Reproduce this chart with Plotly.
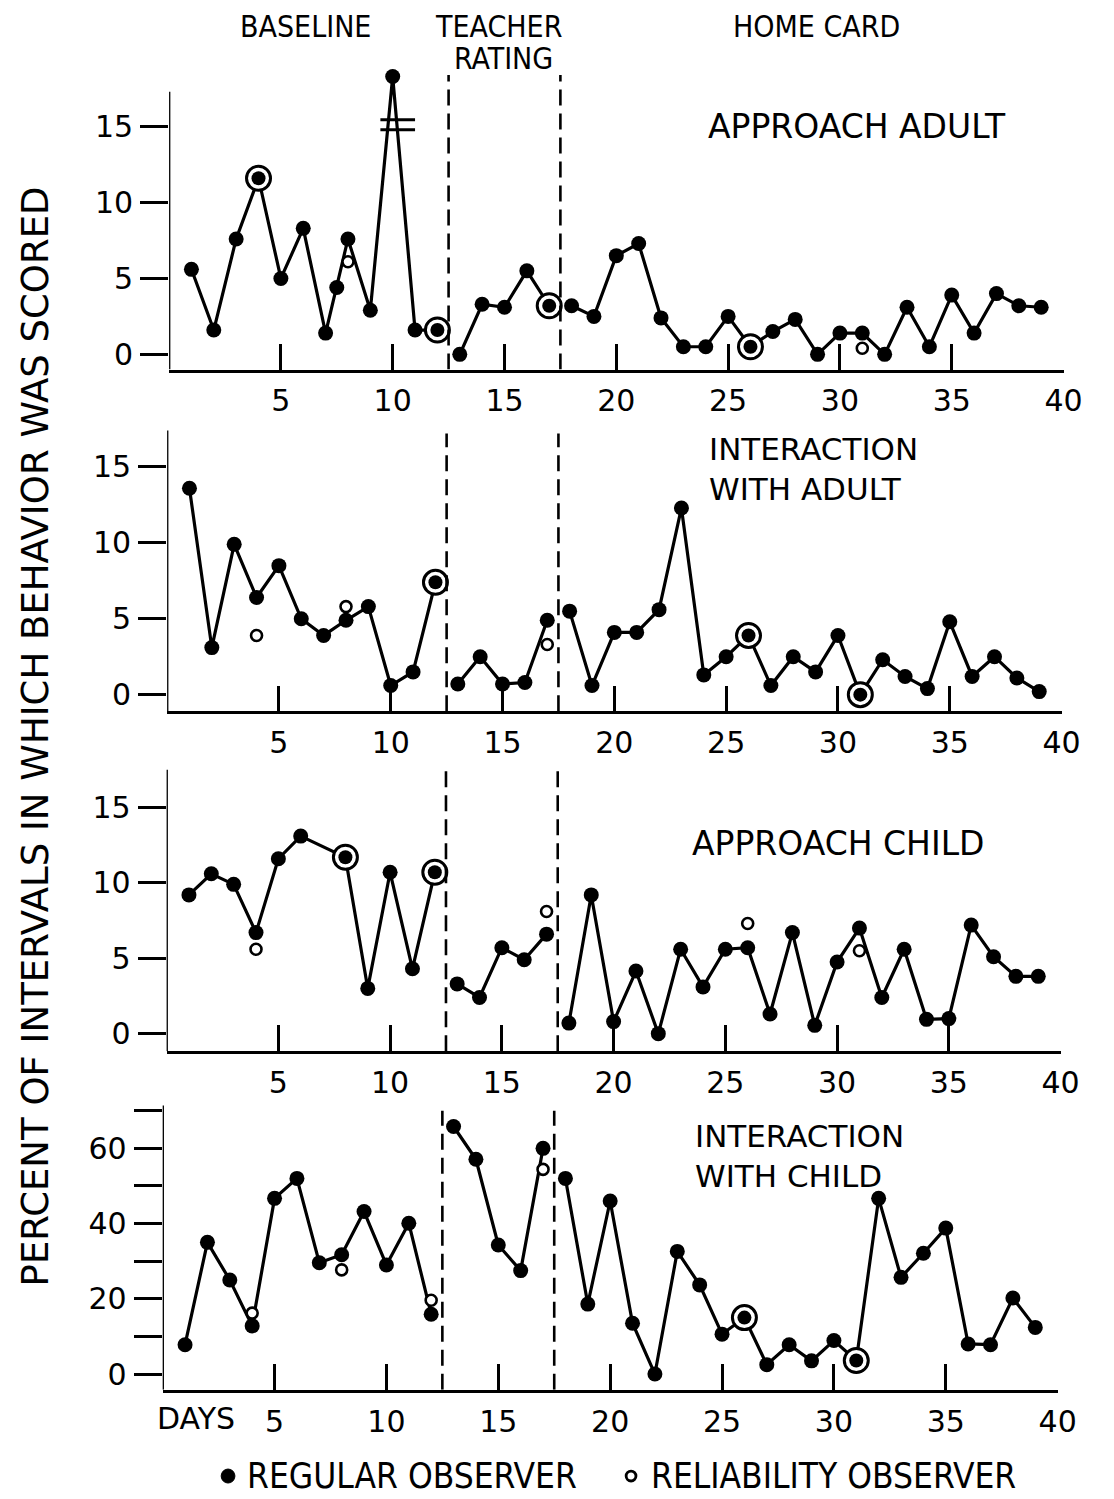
import plotly.graph_objects as go

# ---------------- data ----------------
phase_breaks = [12.5, 17.5]

aa_days = [1, 2, 3, 4, 5, 6, 7, 7.5, 8, 9, 10, 11, 12, 13, 14, 15, 16, 17, 18, 19, 20,
           21, 22, 23, 24, 25, 26, 27, 28, 29, 30, 31, 32, 33, 34, 35, 36, 37, 38, 39]
aa_vals = [5.6, 1.6, 7.6, 11.6, 5.0, 8.3, 1.4, 4.4, 7.6, 2.9, 18.3, 1.6, 1.6, 0.0, 3.3, 3.1, 5.5, 3.2, 3.2, 2.5, 6.5,
           7.3, 2.4, 0.5, 0.5, 2.5, 0.5, 1.5, 2.3, 0.0, 1.4, 1.4, 0.0, 3.1, 0.5, 3.9, 1.4, 4.0, 3.2, 3.1]
aa_rel_days = [8, 31]
aa_rel_vals = [6.1, 0.4]
aa_agree_days = [4, 12, 17, 26]

ia_days = list(range(1, 40))
ia_vals = [13.6, 3.1, 9.9, 6.4, 8.5, 5.0, 3.9, 4.9, 5.8, 0.6, 1.5, 7.4, 0.7, 2.5, 0.7, 0.8, 4.9, 5.5, 0.6, 4.1,
           4.1, 5.6, 12.3, 1.3, 2.5, 3.9, 0.6, 2.5, 1.5, 3.9, 0.0, 2.3, 1.2, 0.4, 4.8, 1.2, 2.5, 1.1, 0.2]
ia_rel_days = [4, 8, 17]
ia_rel_vals = [3.9, 5.8, 3.3]
ia_agree_days = [12, 26, 31]

ac_days = [1, 2, 3, 4, 5, 6, 8, 9, 10, 11, 12, 13, 14, 15, 16, 17, 18, 19, 20,
           21, 22, 23, 24, 25, 26, 27, 28, 29, 30, 31, 32, 33, 34, 35, 36, 37, 38, 39]
ac_vals = [9.2, 10.6, 9.9, 6.7, 11.6, 13.1, 11.7, 3.0, 10.7, 4.3, 10.7, 3.3, 2.4, 5.7, 4.9, 6.6, 0.7, 9.2, 0.8,
           4.15, 0.0, 5.6, 3.1, 5.6, 5.7, 1.3, 6.7, 0.55, 4.75, 7.0, 2.4, 5.6, 0.95, 1.0, 7.2, 5.1, 3.8, 3.8]
ac_rel_days = [4, 17, 26, 31]
ac_rel_vals = [5.6, 8.1, 7.3, 5.5]
ac_agree_days = [8, 12]

ic_days = list(range(1, 40))
ic_vals = [7.8, 35.0, 25.0, 12.8, 46.7, 52.0, 29.6, 31.7, 43.2, 29.0, 40.1, 15.9, 65.8, 57.1, 34.3, 27.5, 60.0,
           52.0, 18.6, 46.0, 13.5, 0.0, 32.6, 23.7, 10.6, 15.0, 2.5, 7.8, 3.5, 8.9, 3.6, 46.7, 25.7, 32.1,
           38.8, 8.0, 7.8, 20.2, 12.4]
ic_rel_days = [4, 8, 12, 17]
ic_rel_vals = [16.2, 27.7, 19.6, 54.4]
ic_agree_days = [26, 31]

panel_titles = ["APPROACH ADULT", "INTERACTION<br>WITH ADULT", "APPROACH CHILD", "INTERACTION<br>WITH CHILD"]
legend_labels = ["REGULAR OBSERVER", "RELIABILITY OBSERVER"]
x_ticks = [5, 10, 15, 20, 25, 30, 35, 40]
y_ticks_small = [0, 5, 10, 15]
y_ticks_big = [0, 10, 20, 30, 40, 50, 60, 70]
y_text_big = ["0", "", "20", "", "40", "", "60", ""]

# ---------------- layout geometry (pixels) ----------------
W, H = 1114, 1499
FONT = "DejaVu Sans"
FONT_C = "DejaVu Sans Condensed"


def fx(p):
    return p / W


def fy(p):
    return 1 - p / H


panels = [
    dict(days=aa_days, vals=aa_vals, rd=aa_rel_days, rv=aa_rel_vals, ag=aa_agree_days,
         x0=172, x1=1082, ybot=370, yr=[-1, 19.5], ppu=15.2, axtop=17.3, dtop=18.4,
         yt=y_ticks_small, ytt=[str(v) for v in y_ticks_small],
         title=dict(x=872, y=127, xanchor="center", size=33)),
    dict(days=ia_days, vals=ia_vals, rd=ia_rel_days, rv=ia_rel_vals, ag=ia_agree_days,
         x0=170, x1=1080, ybot=712.3, yr=[-1.1, 17.6], ppu=15.2, axtop=17.4, dtop=17.2,
         yt=y_ticks_small, ytt=[str(v) for v in y_ticks_small],
         title=dict(x=719, y=470, xanchor="left", size=31)),
    dict(days=ac_days, vals=ac_vals, rd=ac_rel_days, rv=ac_rel_vals, ag=ac_agree_days,
         x0=169.5, x1=1079, ybot=1052.7, yr=[-1.17, 17.6], ppu=15.1, axtop=17.5, dtop=17.4,
         yt=y_ticks_small, ytt=[str(v) for v in y_ticks_small],
         title=dict(x=853, y=845, xanchor="center", size=33)),
    dict(days=ic_days, vals=ic_vals, rd=ic_rel_days, rv=ic_rel_vals, ag=ic_agree_days,
         x0=165.5, x1=1076, ybot=1391.7, yr=[-4.2, 71.5], ppu=3.767, axtop=71.4, dtop=70.0,
         yt=y_ticks_big, ytt=y_text_big,
         title=dict(x=705, y=1158, xanchor="left", size=31)),
]

fig = go.Figure()
shapes = []
annotations = []

for i, p in enumerate(panels):
    n = "" if i == 0 else str(i + 1)
    xa, ya = "x" + n, "y" + n
    ytop_px = p["ybot"] - (p["yr"][1] - p["yr"][0]) * p["ppu"]

    # line with gaps at phase changes
    lx, ly = [], []
    prev = None
    for d, v in zip(p["days"], p["vals"]):
        if prev is not None and any(prev < b < d for b in phase_breaks):
            lx.append(None)
            ly.append(None)
        lx.append(d)
        ly.append(v)
        prev = d
    fig.add_trace(go.Scatter(x=lx, y=ly, mode="lines+markers", xaxis=xa, yaxis=ya,
                             line=dict(color="black", width=3.2),
                             marker=dict(color="black", size=15),
                             name=legend_labels[0], showlegend=False, hoverinfo="skip"))
    # agreement points (both observers): ring + dot
    lookup = dict(zip(p["days"], p["vals"]))
    agx = p["ag"]
    agy = [lookup[d] for d in agx]
    fig.add_trace(go.Scatter(x=agx, y=agy, mode="markers", xaxis=xa, yaxis=ya,
                             marker=dict(symbol="circle", color="white", size=24,
                                         line=dict(color="black", width=3)),
                             showlegend=False, hoverinfo="skip"))
    fig.add_trace(go.Scatter(x=agx, y=agy, mode="markers", xaxis=xa, yaxis=ya,
                             marker=dict(symbol="circle", color="black", size=14),
                             showlegend=False, hoverinfo="skip"))
    # reliability observer
    fig.add_trace(go.Scatter(x=p["rd"], y=p["rv"], mode="markers", xaxis=xa, yaxis=ya,
                             marker=dict(symbol="circle", color="white", size=11,
                                         line=dict(color="black", width=2.6)),
                             name=legend_labels[1], showlegend=False, hoverinfo="skip"))

    xkey = "xaxis" + n
    ykey = "yaxis" + n
    fig.update_layout(**{
        xkey: dict(domain=[fx(p["x0"]), fx(p["x1"])], range=[0, 40], anchor=ya,
                   tickvals=x_ticks, ticktext=[str(t) for t in x_ticks],
                   ticks="inside", ticklen=26, tickwidth=2.5, tickcolor="black",
                   showline=True, linewidth=2.6, linecolor="black",
                   showgrid=False, zeroline=False, ticklabelstandoff=3,
                   tickfont=dict(family=FONT, size=30, color="black")),
        ykey: dict(domain=[fy(p["ybot"]), fy(ytop_px)], range=p["yr"], anchor=xa,
                   tickvals=p["yt"], ticktext=p["ytt"],
                   ticks="outside", ticklen=28, tickwidth=2.5, tickcolor="black",
                   showline=False, showgrid=False, zeroline=False, ticklabelstandoff=1,
                   tickfont=dict(family=FONT, size=30, color="black")),
    })
    # manual y axis line
    shapes.append(dict(type="line", xref=xa, yref=ya, x0=0, x1=0, y0=p["yr"][0], y1=p["axtop"],
                       line=dict(color="black", width=2.6)))
    # phase change lines
    for b in phase_breaks:
        shapes.append(dict(type="line", xref=xa, yref=ya, x0=b, x1=b, y0=p["yr"][0], y1=p["dtop"],
                           line=dict(color="black", width=2.6, dash="16px,8px")))
    t = p["title"]
    annotations.append(dict(text=panel_titles[i], x=fx(t["x"]), y=fy(t["y"]), xref="paper", yref="paper",
                            xanchor=t["xanchor"], yanchor="middle", align="left", showarrow=False,
                            font=dict(family=FONT, size=t["size"], color="black")))

# axis break marks in first panel
for yb in [15.45, 14.8]:
    shapes.append(dict(type="line", xref="x", yref="y", x0=9.45, x1=11.0, y0=yb, y1=yb,
                       line=dict(color="black", width=3)))

# phase headers
for txt, x, y in [("BASELINE", 311, 27), ("TEACHER", 507, 27), ("RATING", 512, 59), ("HOME CARD", 831, 27)]:
    annotations.append(dict(text=txt, x=fx(x), y=fy(y), xref="paper", yref="paper",
                            xanchor="center", yanchor="middle", showarrow=False,
                            font=dict(family=FONT_C, size=30, color="black")))

annotations.append(dict(text="DAYS", x=fx(158), y=fy(1420), xref="paper", yref="paper",
                        xanchor="left", yanchor="middle", showarrow=False,
                        font=dict(family=FONT, size=30, color="black")))

annotations.append(dict(text="PERCENT OF INTERVALS IN WHICH BEHAVIOR WAS SCORED",
                        x=fx(36), y=fy(737), xref="paper", yref="paper", textangle=-90,
                        xanchor="center", yanchor="middle", showarrow=False,
                        font=dict(family=FONT, size=37, color="black")))

# key at the bottom (symbols + labels)
shapes.append(dict(type="circle", xref="paper", yref="paper",
                   x0=fx(225), x1=fx(239), y0=fy(1485), y1=fy(1471),
                   fillcolor="black", line=dict(color="black", width=1)))
shapes.append(dict(type="circle", xref="paper", yref="paper",
                   x0=fx(637), x1=fx(647), y0=fy(1483), y1=fy(1473),
                   fillcolor="white", line=dict(color="black", width=2.8)))
for txt, x in zip(legend_labels, [249, 660]):
    annotations.append(dict(text=txt, x=fx(x), y=fy(1478), xref="paper", yref="paper",
                            xanchor="left", yanchor="middle", showarrow=False,
                            font=dict(family=FONT_C, size=35, color="black")))

fig.update_layout(
    width=W, height=H, margin=dict(l=0, r=0, t=0, b=0),
    paper_bgcolor="white", plot_bgcolor="white",
    shapes=shapes, annotations=annotations,
    showlegend=False,
)

fig.write_html("out.html")
